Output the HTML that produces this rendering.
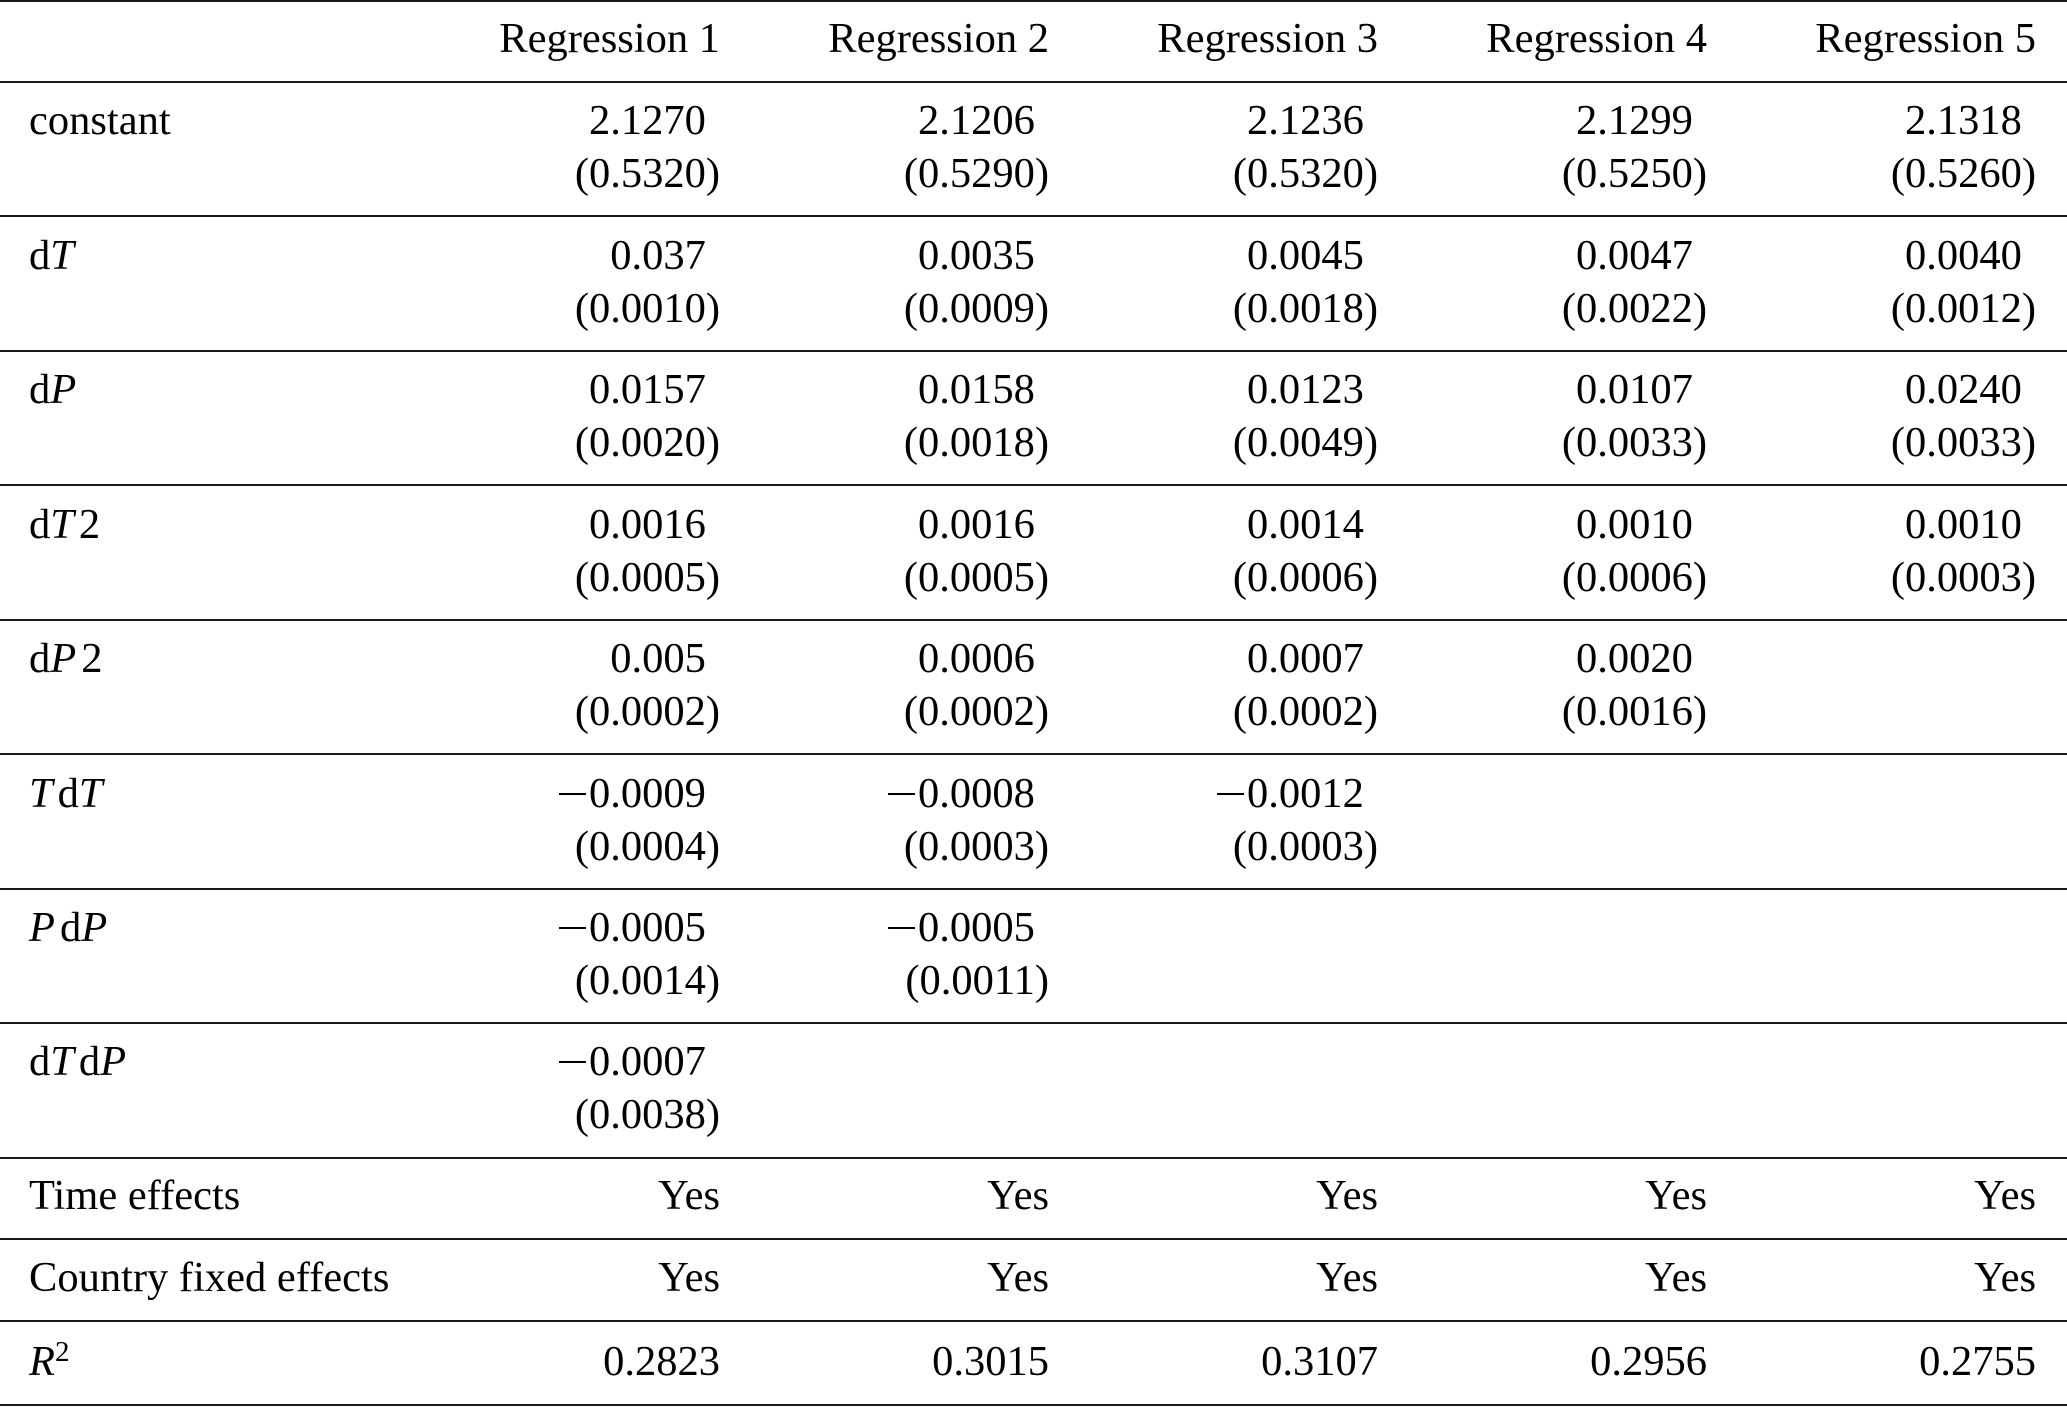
<!DOCTYPE html>
<html>
<head>
<meta charset="utf-8">
<style>
html,body{margin:0;padding:0;background:#fff;}
body{width:2067px;height:1407px;position:relative;overflow:hidden;font-family:"Liberation Serif","DejaVu Serif",serif;font-size:42.5px;color:#000;}
.r{position:absolute;left:0;width:2067px;height:2px;background:#1a1a1a;}
.t{position:absolute;line-height:42.5px;white-space:pre;}
.L{left:29px;}
.c1{right:1347px;text-align:right;}
.c2{right:1018px;text-align:right;}
.c3{right:689px;text-align:right;}
.c4{right:360px;text-align:right;}
.c5{right:31px;text-align:right;}
.h{visibility:hidden;}
i{font-style:italic;}
.sp{margin-left:5px;}
.m{display:inline-block;width:27px;height:2px;background:#000;vertical-align:12px;margin-right:3px;}
.sup{font-size:29px;position:relative;top:-14px;margin-left:0px;}
</style>
</head>
<body>
<!-- rules -->
<div class="r" style="top:0px"></div>
<div class="r" style="top:81px"></div>
<div class="r" style="top:215px"></div>
<div class="r" style="top:350px"></div>
<div class="r" style="top:484px"></div>
<div class="r" style="top:619px"></div>
<div class="r" style="top:753px"></div>
<div class="r" style="top:888px"></div>
<div class="r" style="top:1022px"></div>
<div class="r" style="top:1157px"></div>
<div class="r" style="top:1238px"></div>
<div class="r" style="top:1320px"></div>
<div class="r" style="top:1404px"></div>

<!-- header -->
<div class="t c1" style="top:18px">Regression 1</div>
<div class="t c2" style="top:18px">Regression 2</div>
<div class="t c3" style="top:18px">Regression 3</div>
<div class="t c4" style="top:18px">Regression 4</div>
<div class="t c5" style="top:18px">Regression 5</div>

<!-- constant -->
<div class="t L" style="top:100px">constant</div>
<div class="t c1" style="top:100px">2.1270<span class="h">)</span></div>
<div class="t c1" style="top:153px">(0.5320)</div>
<div class="t c2" style="top:100px">2.1206<span class="h">)</span></div>
<div class="t c2" style="top:153px">(0.5290)</div>
<div class="t c3" style="top:100px">2.1236<span class="h">)</span></div>
<div class="t c3" style="top:153px">(0.5320)</div>
<div class="t c4" style="top:100px">2.1299<span class="h">)</span></div>
<div class="t c4" style="top:153px">(0.5250)</div>
<div class="t c5" style="top:100px">2.1318<span class="h">)</span></div>
<div class="t c5" style="top:153px">(0.5260)</div>

<!-- dT -->
<div class="t L" style="top:235px">d<i>T</i></div>
<div class="t c1" style="top:235px">0.037<span class="h">)</span></div>
<div class="t c1" style="top:288px">(0.0010)</div>
<div class="t c2" style="top:235px">0.0035<span class="h">)</span></div>
<div class="t c2" style="top:288px">(0.0009)</div>
<div class="t c3" style="top:235px">0.0045<span class="h">)</span></div>
<div class="t c3" style="top:288px">(0.0018)</div>
<div class="t c4" style="top:235px">0.0047<span class="h">)</span></div>
<div class="t c4" style="top:288px">(0.0022)</div>
<div class="t c5" style="top:235px">0.0040<span class="h">)</span></div>
<div class="t c5" style="top:288px">(0.0012)</div>

<!-- dP -->
<div class="t L" style="top:369px">d<i>P</i></div>
<div class="t c1" style="top:369px">0.0157<span class="h">)</span></div>
<div class="t c1" style="top:422px">(0.0020)</div>
<div class="t c2" style="top:369px">0.0158<span class="h">)</span></div>
<div class="t c2" style="top:422px">(0.0018)</div>
<div class="t c3" style="top:369px">0.0123<span class="h">)</span></div>
<div class="t c3" style="top:422px">(0.0049)</div>
<div class="t c4" style="top:369px">0.0107<span class="h">)</span></div>
<div class="t c4" style="top:422px">(0.0033)</div>
<div class="t c5" style="top:369px">0.0240<span class="h">)</span></div>
<div class="t c5" style="top:422px">(0.0033)</div>

<!-- dT2 -->
<div class="t L" style="top:504px">d<i>T</i><span class="sp">2</span></div>
<div class="t c1" style="top:504px">0.0016<span class="h">)</span></div>
<div class="t c1" style="top:557px">(0.0005)</div>
<div class="t c2" style="top:504px">0.0016<span class="h">)</span></div>
<div class="t c2" style="top:557px">(0.0005)</div>
<div class="t c3" style="top:504px">0.0014<span class="h">)</span></div>
<div class="t c3" style="top:557px">(0.0006)</div>
<div class="t c4" style="top:504px">0.0010<span class="h">)</span></div>
<div class="t c4" style="top:557px">(0.0006)</div>
<div class="t c5" style="top:504px">0.0010<span class="h">)</span></div>
<div class="t c5" style="top:557px">(0.0003)</div>

<!-- dP2 -->
<div class="t L" style="top:638px">d<i>P</i><span class="sp">2</span></div>
<div class="t c1" style="top:638px">0.005<span class="h">)</span></div>
<div class="t c1" style="top:691px">(0.0002)</div>
<div class="t c2" style="top:638px">0.0006<span class="h">)</span></div>
<div class="t c2" style="top:691px">(0.0002)</div>
<div class="t c3" style="top:638px">0.0007<span class="h">)</span></div>
<div class="t c3" style="top:691px">(0.0002)</div>
<div class="t c4" style="top:638px">0.0020<span class="h">)</span></div>
<div class="t c4" style="top:691px">(0.0016)</div>

<!-- TdT -->
<div class="t L" style="top:773px"><i>T</i><span class="sp">d</span><i>T</i></div>
<div class="t c1" style="top:773px"><span class="m"></span>0.0009<span class="h">)</span></div>
<div class="t c1" style="top:826px">(0.0004)</div>
<div class="t c2" style="top:773px"><span class="m"></span>0.0008<span class="h">)</span></div>
<div class="t c2" style="top:826px">(0.0003)</div>
<div class="t c3" style="top:773px"><span class="m"></span>0.0012<span class="h">)</span></div>
<div class="t c3" style="top:826px">(0.0003)</div>

<!-- PdP -->
<div class="t L" style="top:907px"><i>P</i><span class="sp">d</span><i>P</i></div>
<div class="t c1" style="top:907px"><span class="m"></span>0.0005<span class="h">)</span></div>
<div class="t c1" style="top:960px">(0.0014)</div>
<div class="t c2" style="top:907px"><span class="m"></span>0.0005<span class="h">)</span></div>
<div class="t c2" style="top:960px">(0.0011)</div>

<!-- dTdP -->
<div class="t L" style="top:1041px">d<i>T</i><span class="sp">d</span><i>P</i></div>
<div class="t c1" style="top:1041px"><span class="m"></span>0.0007<span class="h">)</span></div>
<div class="t c1" style="top:1094px">(0.0038)</div>

<!-- Time effects -->
<div class="t L" style="top:1175px">Time effects</div>
<div class="t c1" style="top:1175px">Yes</div>
<div class="t c2" style="top:1175px">Yes</div>
<div class="t c3" style="top:1175px">Yes</div>
<div class="t c4" style="top:1175px">Yes</div>
<div class="t c5" style="top:1175px">Yes</div>

<!-- Country fixed effects -->
<div class="t L" style="top:1257px">Country fixed effects</div>
<div class="t c1" style="top:1257px">Yes</div>
<div class="t c2" style="top:1257px">Yes</div>
<div class="t c3" style="top:1257px">Yes</div>
<div class="t c4" style="top:1257px">Yes</div>
<div class="t c5" style="top:1257px">Yes</div>

<!-- R2 -->
<div class="t L" style="top:1341px"><i>R</i><span class="sup">2</span></div>
<div class="t c1" style="top:1341px">0.2823</div>
<div class="t c2" style="top:1341px">0.3015</div>
<div class="t c3" style="top:1341px">0.3107</div>
<div class="t c4" style="top:1341px">0.2956</div>
<div class="t c5" style="top:1341px">0.2755</div>
</body>
</html>
